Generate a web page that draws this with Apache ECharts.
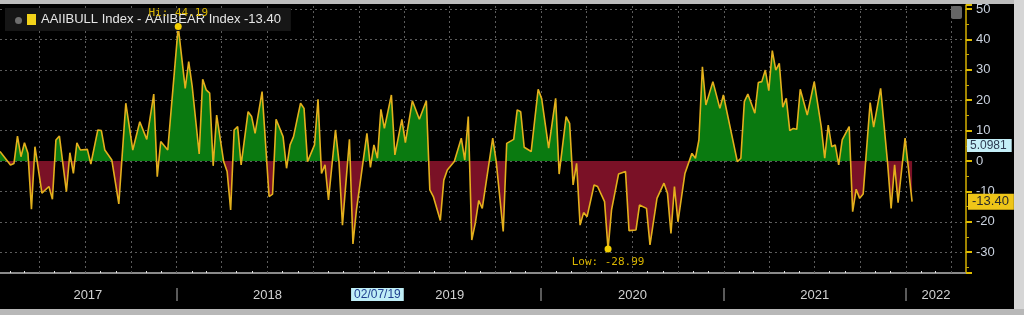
<!DOCTYPE html>
<html><head><meta charset="utf-8">
<script src="https://cdn.jsdelivr.net/npm/echarts@6/dist/echarts.min.js"></script>
<style>html,body{margin:0;padding:0;background:#000}#c{width:1024px;height:315px}</style>
</head><body><div id="c"></div>
<script>
const dates = ['2017-01-12','2017-02-02','2017-02-09','2017-02-16','2017-02-23','2017-03-02','2017-03-09','2017-03-16','2017-03-23','2017-04-06','2017-04-20','2017-04-27','2017-05-04','2017-05-11','2017-05-25','2017-06-01','2017-06-08','2017-06-15','2017-06-22','2017-07-06','2017-07-13','2017-07-27','2017-08-03','2017-08-10','2017-08-24','2017-09-07','2017-09-21','2017-10-05','2017-10-19','2017-11-02','2017-11-16','2017-11-23','2017-11-30','2017-12-14',
'2018-01-04','2018-01-18','2018-01-25','2018-02-01','2018-02-15','2018-02-22','2018-03-01','2018-03-08','2018-03-15','2018-03-22','2018-04-05','2018-04-12','2018-04-19','2018-04-26','2018-05-03','2018-05-10','2018-05-24','2018-05-31','2018-06-07','2018-06-21','2018-07-05','2018-07-12','2018-07-19','2018-08-02','2018-08-09','2018-08-16','2018-08-23','2018-09-06','2018-09-13','2018-09-20','2018-10-04','2018-10-11','2018-10-18','2018-10-25','2018-11-01','2018-11-15','2018-11-22','2018-11-29','2018-12-13','2018-12-20','2018-12-27',
'2019-01-17','2019-01-24','2019-01-31','2019-02-07','2019-02-14','2019-02-21','2019-03-07','2019-03-14','2019-03-28','2019-04-04','2019-04-18','2019-05-02','2019-05-16','2019-05-23','2019-05-30','2019-06-13','2019-06-20','2019-06-27','2019-07-11','2019-07-25','2019-08-01','2019-08-08','2019-08-15','2019-08-22','2019-08-29','2019-09-05','2019-09-26','2019-10-03','2019-10-17','2019-10-24','2019-11-07','2019-11-14','2019-11-21','2019-11-28','2019-12-12','2019-12-26',
'2020-01-02','2020-01-16','2020-01-30','2020-02-06','2020-02-20','2020-02-27','2020-03-05','2020-03-12','2020-03-19','2020-03-26','2020-04-02','2020-04-16','2020-04-23','2020-05-07','2020-05-14','2020-05-21','2020-06-04','2020-06-18','2020-06-25','2020-07-09','2020-07-16','2020-07-30','2020-08-06','2020-08-20','2020-09-03','2020-09-10','2020-09-17','2020-09-24','2020-10-01','2020-10-15','2020-10-29','2020-11-05','2020-11-12','2020-11-19','2020-11-26','2020-12-10','2020-12-24','2020-12-31',
'2021-01-28','2021-02-04','2021-02-11','2021-02-18','2021-03-04','2021-03-11','2021-03-18','2021-03-25','2021-04-01','2021-04-08','2021-04-15','2021-04-22','2021-04-29','2021-05-06','2021-05-13','2021-05-20','2021-05-27','2021-06-03','2021-06-17','2021-07-01','2021-07-15','2021-07-22','2021-07-29','2021-08-05','2021-08-12','2021-08-19','2021-08-26','2021-09-09','2021-09-16','2021-09-23','2021-09-30','2021-10-07','2021-10-21','2021-10-28','2021-11-11','2021-11-25','2021-12-02','2021-12-09','2021-12-16','2021-12-30',
'2022-01-13'];
const spread = [3.1,-1.3,-0.8,8.2,1.4,6.0,2.5,-15.9,4.7,-10.6,-8.4,-12.6,6.9,8.2,-10.1,2.7,-4.1,6.0,3.6,3.8,-1.0,10.2,10.0,3.6,0.3,-14.1,19.0,3.6,12.9,7.1,22.0,-5.2,6.4,3.6,
44.19,23.9,32.7,24.5,2.3,26.9,23.4,22.3,-1.6,15.1,-0.2,-3.5,-16.1,10.2,11.3,-1.3,16.2,14.6,9.1,22.8,-11.7,-10.9,13.7,8.0,-2.4,5.3,8.0,19.0,17.3,-0.2,5.3,20.3,-4.1,-1.3,-12.8,10.2,-0.2,-21.1,7.1,-27.3,-16.1,
9.1,-2.1,5.3,0.9,17.0,10.7,21.7,2.0,13.7,6.0,19.8,13.7,19.8,-9.5,-11.7,-19.6,-6.3,-3.0,-0.2,7.5,0.3,14.6,-26.0,-20.5,-13.0,-15.6,7.5,-0.2,-23.2,5.8,7.1,16.8,16.2,4.5,3.1,23.6,
20.5,4.2,20.6,-4.3,14.6,12.4,-7.9,-0.8,-21.1,-17.0,-18.3,-7.9,-8.4,-13.4,-28.99,-16.1,-4.3,-3.5,-22.9,-22.7,-14.5,-15.6,-27.6,-12.3,-7.3,-10.6,-23.8,-8.4,-20.0,-4.1,2.5,0.9,6.9,31.0,18.4,26.1,17.3,21.7,
-0.2,0.9,19.5,22.0,15.7,25.8,26.1,29.9,23.1,36.3,29.9,32.1,17.7,20.6,10.0,10.7,10.4,23.6,15.1,26.1,11.3,0.9,11.8,4.7,5.3,-1.3,6.9,11.3,-16.7,-9.3,-12.3,-10.9,19.2,11.1,23.9,-0.8,-15.6,-1.3,-13.7,7.5,
-13.40];

const seriesName = 'AAIIBULL Index - AAIIBEAR Index -13.40';
const xMin = '2017-01-12', xMax = '2022-05-01';
const yearLabelDates = ['2017-07-07','2018-07-02','2019-07-02','2020-07-02','2021-07-02','2022-03-02'];
const yearStarts = ['2018-01-01','2019-01-01','2020-01-01','2021-01-01','2022-01-01'];
const quarterLines = ['2017-04-01','2017-07-01','2017-10-01','2018-01-01','2018-04-01','2018-07-01','2018-10-01','2019-01-01','2019-04-01','2019-07-01','2019-10-01','2020-01-01','2020-04-01','2020-07-01','2020-10-01','2021-01-01','2021-04-01','2021-07-01','2021-10-01','2022-01-01','2022-04-01'];
const lastValue = -13.40, lastLabel = '-13.40';
const avgValue = 5.0981, avgLabel = '5.0981';
const cursorDate = '2019-02-07', cursorLabel = '02/07/19';

const monthTicks = [];
for (let y = 2017; y <= 2022; y++) for (let m = 1; m <= 12; m++) {
  const s = y + '-' + String(m).padStart(2,'0') + '-01';
  if (s > xMin && s < xMax) monthTicks.push(s);
}
const seriesData = dates.map((d, i) => [d, spread[i]]);

const chart = echarts.init(document.getElementById('c'));
const font = 'Liberation Sans';
const hidden = 'rgba(0,0,0,0)';
chart.setOption({
  backgroundColor: '#000',
  animation: false,
  textStyle: { fontFamily: font },
  grid: { left: 0, right: 58, top: 5, bottom: 42 },
  legend: {
    left: 5, top: 8, padding: [5, 10, 5, 22], backgroundColor: '#161616',
    icon: 'rect', itemWidth: 9, itemHeight: 11,
    textStyle: { color: '#e6e6e6', fontSize: 13, fontFamily: font },
    data: [seriesName]
  },
  visualMap: {
    show: false, type: 'piecewise', seriesIndex: 0, dimension: 1,
    pieces: [{ min: -100, max: 0, color: '#7a1126' }, { min: 0, max: 100, color: '#0a7a10' }]
  },
  xAxis: [{
    type: 'time', min: xMin, max: xMax,
    axisLine: { onZero: false, lineStyle: { color: '#8a8a8a', width: 2 } },
    axisTick: { show: true, customValues: monthTicks, length: 2, inside: true, lineStyle: { color: '#e0e0e0', width: 1 } },
    axisLabel: { customValues: yearLabelDates, formatter: '{yyyy}', color: '#d2d2d2', fontSize: 13, margin: 16, fontFamily: font },
    splitLine: { show: false }
  }, {
    type: 'time', min: xMin, max: xMax, position: 'bottom', offset: 15,
    axisLine: { show: false, onZero: false },
    axisTick: { show: true, customValues: yearStarts, length: 13, lineStyle: { color: '#5a5a5a', width: 2 } },
    axisLabel: { show: false },
    splitLine: { show: false }
  }],
  yAxis: {
    type: 'value', position: 'right', min: -36.85, max: 51.3, splitNumber: 9,
    axisLine: { show: true, lineStyle: { color: '#d6b000', width: 1.5 } },
    axisTick: { show: true, length: 6, lineStyle: { color: '#e0bc00', width: 2 } },
    minorTick: { show: true, splitNumber: 2, length: 3, lineStyle: { color: '#c9a800', width: 1 } },
    axisLabel: { color: '#c9d1de', fontSize: 13, margin: 10, showMinLabel: false, showMaxLabel: false, fontFamily: font },
    splitLine: { show: true, showMinLine: false, showMaxLine: false, lineStyle: { color: '#5c5c5c', type: [2, 3], width: 1 } }
  },
  series: [{
    name: seriesName, type: 'line', z: 3,
    data: seriesData,
    symbol: 'none',
    lineStyle: { color: '#e3b01c', width: 1.6 },
    itemStyle: { color: '#f2d21a' },
    areaStyle: { opacity: 1 },
    markLine: {
      silent: true, symbol: 'none', z: 1, label: { show: false },
      lineStyle: { color: '#5c5c5c', type: [2, 3], width: 1 },
      data: quarterLines.map(d => ({ xAxis: d }))
    },
    markPoint: {
      symbol: 'circle', symbolSize: 7, z: 6,
      itemStyle: { color: '#f3cf00' },
      label: { color: '#d9b500', fontFamily: 'DejaVu Sans Mono', fontSize: 11 },
      data: [
        { type: 'max', label: { position: 'top', distance: 4, formatter: p => 'Hi: ' + p.value.toFixed(2) } },
        { type: 'min', label: { position: 'bottom', distance: 4, formatter: p => 'Low: ' + p.value.toFixed(2) } }
      ]
    }
  }, {
    name: 'tags', type: 'line', data: seriesData, clip: false, z: 10, silent: true,
    symbol: 'none', lineStyle: { color: hidden, width: 0 }, itemStyle: { color: hidden },
    markLine: {
      silent: true, symbol: 'none', z: 10,
      lineStyle: { color: hidden, width: 1, type: 'solid' },
      data: [
        { yAxis: lastValue, label: { show: true, position: 'end', distance: 2, formatter: lastLabel, backgroundColor: '#efc518', color: '#2a2a2a', padding: [2, 5, 1, 4], fontSize: 13, fontFamily: font } },
        { yAxis: avgValue, label: { show: true, position: 'end', distance: 1, formatter: avgLabel, backgroundColor: '#c4eff8', color: '#2d3b52', padding: [1, 5, 0, 3], fontSize: 12, fontFamily: font } },
        { xAxis: cursorDate, label: { show: true, position: 'start', distance: 15, formatter: cursorLabel, backgroundColor: '#bfeef7', color: '#1f3f8f', padding: [1, 3, 0, 3], fontSize: 12, fontFamily: font } }
      ]
    }
  }],
  graphic: [
    { type: 'rect', left: 0, top: 0, shape: { width: 1024, height: 4 }, style: { fill: '#bdbdbd' }, z: 100 },
    { type: 'rect', left: 1014, top: 0, shape: { width: 10, height: 315 }, style: { fill: '#d6d6d6' }, z: 100 },
    { type: 'rect', left: 0, top: 309, shape: { width: 1024, height: 6 }, style: { fill: '#b8b8b8' }, z: 100 },
    { type: 'rect', left: 951, top: 6, shape: { width: 11, height: 13, r: 2 }, style: { fill: '#666' }, z: 100 },
    { type: 'circle', left: 15, top: 17, shape: { r: 3.5 }, style: { fill: '#6e6e6e' }, z: 100 }
  ]
});
</script></body></html>
